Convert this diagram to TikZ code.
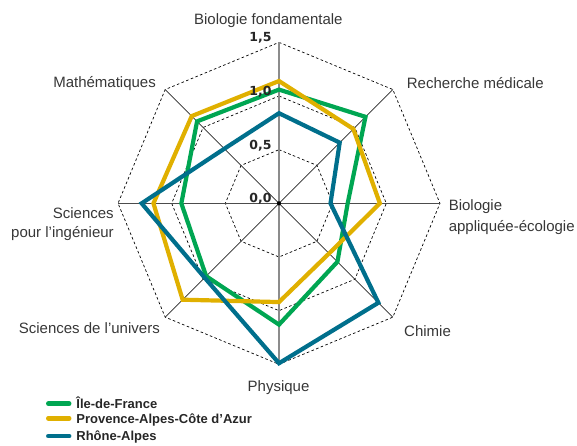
\documentclass[tikz,border=0pt]{standalone}
\usepackage{fontspec}
\setmainfont{Liberation Sans}
\newfontfamily\tickfont{DejaVu Sans}
\usepackage{tikz}
\usetikzlibrary{positioning}

\definecolor{idfgreen}{RGB}{0,166,82}
\definecolor{pacayellow}{RGB}{224,176,0}
\definecolor{rablue}{RGB}{0,111,140}
\definecolor{labelgray}{RGB}{55,55,55}
\definecolor{axisgray}{RGB}{140,140,140}

\tikzset{
  ring/.style={black, line width=0.7pt, dash pattern=on 2.6pt off 2.4pt},
  spoke/.style={black!85, line width=0.6pt},
  valaxis/.style={axisgray, line width=2pt},
  serie/.style={line width=4.2pt},
  idf/.style={serie, idfgreen},
  paca/.style={serie, pacayellow},
  ra/.style={serie, rablue},
  lab/.style={labelgray, inner sep=0pt, font=\fontsize{15}{18}\selectfont},
  tick/.style={black!85, inner sep=0pt, anchor=base east, font=\tickfont\fontsize{12.5}{15}\selectfont\bfseries},
  key/.style={black!85, inner sep=0pt, anchor=base west, font=\fontsize{13}{15}\selectfont\bfseries}
}

\begin{document}
\begin{tikzpicture}[x=107.3pt, y=107.3pt]
\useasboundingbox (-2.600,-2.2526) rectangle (2.777,1.895);
% grid
\draw[ring] (90:0.5) -- (45:0.5) -- (0:0.5) -- (-45:0.5) -- (-90:0.5) -- (-135:0.5) -- (180:0.5) -- (135:0.5) -- cycle;
\draw[ring] (90:1) -- (45:1) -- (0:1) -- (-45:1) -- (-90:1) -- (-135:1) -- (180:1) -- (135:1) -- cycle;
\draw[ring] (90:1.5) -- (45:1.5) -- (0:1.5) -- (-45:1.5) -- (-90:1.5) -- (-135:1.5) -- (180:1.5) -- (135:1.5) -- cycle;
\draw[spoke] (45:1.5) -- (-135:1.5);
\draw[spoke] (-45:1.5) -- (135:1.5);
\draw[spoke, black!70, line width=0.9pt] (180:1.5) -- (0:1.5);
\draw[valaxis] (90:1.5) -- (-90:1.5);
\node[circle, fill=black, inner sep=1.5pt] (o) at (0,0) {};
% regions
\draw[idf] (90:1.06) -- (45:1.14) -- (0:0.64) -- (-45:0.77) -- (-90:1.13) -- (-135:0.96) -- (180:0.91) -- (135:1.08) -- cycle;
\draw[paca] (90:1.14) -- (45:0.98) -- (0:0.94) -- (-45:0.66) -- (-90:0.92) -- (-135:1.27) -- (180:1.17) -- (135:1.15) -- cycle;
\draw[ra] (90:0.84) -- (45:0.80) -- (0:0.48) -- (-45:1.31) -- (-90:1.49) -- (-135:0.98) -- (180:1.28) -- (135:0.72) -- cycle;
% scale
\node[tick] (t00) at (-0.068,0.005) {0,0};
\node[tick] (t05) at (-0.068,0.505) {0,5};
\node[tick] (t10) at (-0.068,1.005) {1,0};
\node[tick] (t15) at (-0.068,1.505) {1,5};
% axis names
\node[lab, anchor=base] (biofond) at (-0.099,1.671) {Biologie fondamentale};
\node[lab, anchor=base west] (recmed) at (1.190,1.070) {Recherche médicale};
\node[lab, anchor=base west] (bioapp) at (1.580,-0.071) {Biologie};
\node[lab, anchor=base west] (bioeco) at (1.580,-0.258) {appliquée-écologie};
\node[lab, anchor=base west] (chimie) at (1.165,-1.237) {Chimie};
\node[lab, anchor=base] (physique) at (-0.004,-1.756) {Physique};
\node[lab, anchor=base east] (univers) at (-1.109,-1.213) {Sciences de l’univers};
\node[lab, anchor=base east] (sciA) at (-1.538,-0.139) {Sciences};
\node[lab, anchor=base east] (sciB) at (-1.538,-0.317) {pour l’ingénieur};
\node[lab, anchor=base east] (maths) at (-1.146,1.084) {Mathématiques};
% legend
\coordinate (kidf) at (-2.150,-1.866);
\coordinate (kpaca) at (-2.150,-2.003);
\coordinate (kra) at (-2.150,-2.169);
\node[key] (lidf) at (-1.890,-1.910) {Île-de-France};
\node[key] (lpaca) at (-1.890,-2.047) {Provence-Alpes-Côte d’Azur};
\node[key] (lra) at (-1.890,-2.213) {Rhône-Alpes};
\draw[idf, line width=4.5pt, line cap=round] (kidf) -- ++(0.195,0);
\draw[paca, line width=4.5pt, line cap=round] (kpaca) -- ++(0.195,0);
\draw[ra, line width=4.5pt, line cap=round] (kra) -- ++(0.195,0);
\end{tikzpicture}
\end{document}
